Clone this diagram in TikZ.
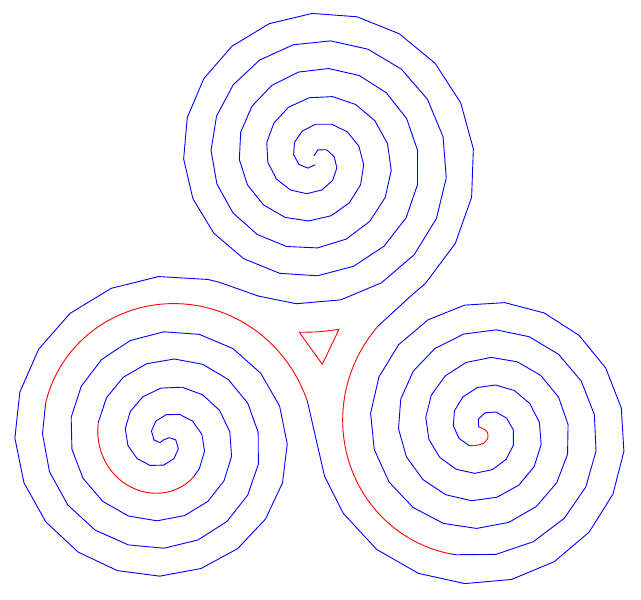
\documentclass[tikz,border=0pt]{standalone}
\definecolor{sblue}{RGB}{0,0,255}
\definecolor{sred}{RGB}{255,0,0}
\newcommand\spb{0.15444}
\newcommand\stepv{14+600/(\spr+20)}
\newcommand\stepf{2}
% \sppts{cx}{cy}{r0}{offset}{theta start}{theta end}{step}{m|l}
\newcommand\sppts[8]{%
  \pgfmathsetmacro\spth{#5}%
  \pgfmathsetmacro\spr{#3+\spb*\spth}%
  \pgfmathsetmacro\spx{#1+\spr*cos(\spth+#4)}%
  \pgfmathsetmacro\spy{#2+\spr*sin(\spth+#4)}%
  \if#8m\pgfpathmoveto{\pgfpointxy{\spx}{\spy}}\else\pgfpathlineto{\pgfpointxy{\spx}{\spy}}\fi
  \loop
    \pgfmathsetmacro\spstep{#7}%
    \pgfmathsetmacro\spth{min(\spth+\spstep,#6)}%
    \pgfmathsetmacro\spr{#3+\spb*\spth}%
    \pgfmathsetmacro\spx{#1+\spr*cos(\spth+#4)}%
    \pgfmathsetmacro\spy{#2+\spr*sin(\spth+#4)}%
    \pgfpathlineto{\pgfpointxy{\spx}{\spy}}%
  \ifdim\spth pt<\dimexpr #6pt-0.01pt\relax\repeat
}
\newcommand\Tpts[5]{\sppts{315}{158.5}{20.2}{#1}{#2}{#3}{#4}{#5}}
\newcommand\Lpts[5]{\sppts{164.9}{439.9}{10.93}{#1}{#2}{#3}{#4}{#5}}
\newcommand\Rpts[5]{\sppts{483.6}{429.1}{1.67}{#1}{#2}{#3}{#4}{#5}}
\newcommand\spstroke[2]{%
  \begin{pgfscope}\pgfsetstrokecolor{#1}\pgfsetlinewidth{0.9pt}%
  \pgfsetroundjoin\pgfsetroundcap #2\pgfusepath{stroke}\end{pgfscope}}
\begin{document}
\begin{tikzpicture}[x=1pt,y=-1pt]
\useasboundingbox (0,0) rectangle (641,600);
% top spiral, arm A, into left spiral
\spstroke{sblue}{\Tpts{0}{-112}{832.4}{\stepv}{m}}
\spstroke{sblue}{\Lpts{0}{0}{1009}{\stepv}{m}\Tpts{0}{832.4}{832.4}{\stepv}{l}}
% left spiral centre hook
\spstroke{sblue}{\Lpts{180}{0}{0}{\stepv}{m}%
  \pgfpathlineto{\pgfpointxy{160}{442.7}}%
  \pgfpathlineto{\pgfpointxy{163.3}{440}}%
  \pgfpathlineto{\pgfpointxy{169.3}{437.7}}%
  \Lpts{0}{0}{0}{\stepv}{l}}
% left spiral arm B, into right spiral
\spstroke{sblue}{\Lpts{180}{0}{232}{\stepv}{m}}
\spstroke{sred}{\Lpts{180}{232}{375}{\stepf}{m}}
\spstroke{sblue}{\Lpts{180}{375}{737}{\stepv}{m}}
\spstroke{sred}{\Lpts{180}{737}{885}{\stepf}{m}}
\spstroke{sblue}{\Lpts{180}{885}{885}{\stepv}{m}\Rpts{180}{1063.5}{1063.5}{\stepv}{l}}
\spstroke{sblue}{\Rpts{180}{25}{1063.5}{\stepv}{m}}
% right spiral arm A, into top spiral
\spstroke{sblue}{\Rpts{0}{131}{824.6}{\stepv}{m}}
\spstroke{sred}{\Rpts{0}{824.6}{944.4}{\stepf}{m}}
\spstroke{sblue}{\Tpts{180}{-90}{955.7}{\stepv}{m}\Rpts{0}{944.4}{944.4}{\stepv}{l}}
% right spiral centre hook
\draw[sred, line width=0.9pt, line cap=round] plot[smooth] coordinates
  {(469.2,445.6) (476.7,445.3) (483.5,443.3) (487.7,438.5) (487.5,432.5) (483.5,428.8) (478.6,426.8)};
% central triangle
\coordinate (ta) at (299.3,332.3);
\coordinate (tb) at (339,329.3);
\coordinate (tc) at (322.3,364.3);
\draw[sred, line width=0.9pt, line join=round]
  (ta) .. controls (319.3,332) .. (tb) .. controls (330,347) .. (tc) .. controls (310.5,348) .. cycle;
\end{tikzpicture}
\end{document}
